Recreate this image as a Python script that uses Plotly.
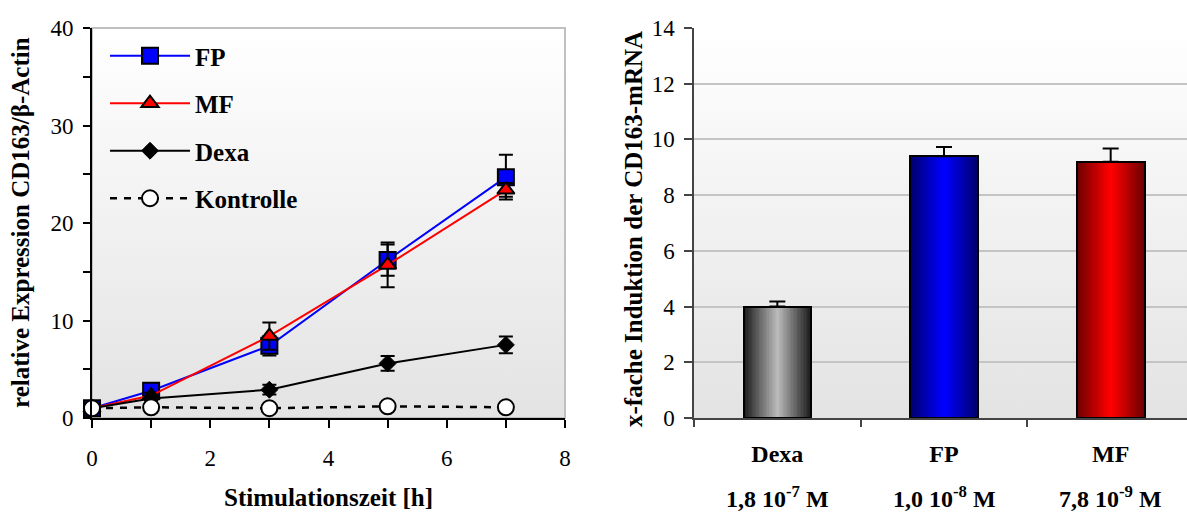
import base64
import plotly.graph_objects as go

# ---- Zeitverlauf: relative Expression CD163/beta-Actin ----
zeit_h = [0, 1, 3, 5, 7]
fp_werte = [1.0, 2.8, 7.4, 16.2, 24.7]
fp_fehler = [0.0, 0.3, 1.0, 1.6, 2.3]
mf_werte = [1.0, 2.3, 8.4, 15.7, 23.4]
mf_fehler = [0.0, 0.3, 1.4, 2.3, 0.7]
dexa_werte = [1.0, 2.0, 2.9, 5.6, 7.5]
dexa_fehler = [0.0, 0.2, 0.5, 0.75, 0.85]
kontrolle_werte = [1.0, 1.1, 1.0, 1.2, 1.1]

# ---- x-fache Induktion ----
substanzen = ["Dexa", "FP", "MF"]
konzentrationen = ["1,8 10<sup>-7</sup> M", "1,0 10<sup>-8</sup> M", "7,8 10<sup>-9</sup> M"]
induktion = [4.0, 9.4, 9.2]
induktion_fehler = [0.18, 0.33, 0.47]

# gradient colours (edge, centre) per bar
balken_rand = [(28, 28, 28), (0, 0, 110), (110, 0, 0)]
balken_mitte = [(185, 185, 185), (0, 0, 255), (255, 0, 0)]

W, H = 1187, 515
SERIF = "Liberation Serif"

left_dom = [92 / W, 565 / W]
right_dom = [694 / W, 1.0]
y_dom = [1 - 418 / H, 1 - 28 / H]

fig = go.Figure()

err_style = dict(color="black", thickness=2, width=7)

fig.add_trace(go.Scatter(
    x=zeit_h, y=fp_werte, name="FP", mode="lines+markers", legendgroup="a", cliponaxis=False,
    line=dict(color="#0000ff", width=2),
    marker=dict(symbol="square", size=16, color="#0000ff", line=dict(color="black", width=2)),
    error_y=dict(type="data", array=fp_fehler, **err_style),
    xaxis="x", yaxis="y"))
fig.add_trace(go.Scatter(
    x=zeit_h, y=mf_werte, name="MF", mode="lines+markers", legendgroup="b", cliponaxis=False,
    line=dict(color="#ff0000", width=2),
    marker=dict(symbol="triangle-up", size=15, color="#ff0000", line=dict(color="black", width=2)),
    error_y=dict(type="data", array=mf_fehler, **err_style),
    xaxis="x", yaxis="y"))
fig.add_trace(go.Scatter(
    x=zeit_h, y=dexa_werte, name="Dexa", mode="lines+markers", legendgroup="c", cliponaxis=False,
    line=dict(color="black", width=2),
    marker=dict(symbol="diamond", size=13, color="black", line=dict(color="black", width=1)),
    error_y=dict(type="data", array=dexa_fehler, **err_style),
    xaxis="x", yaxis="y"))
fig.add_trace(go.Scatter(
    x=zeit_h, y=kontrolle_werte, name="Kontrolle", mode="lines+markers", legendgroup="d",
    cliponaxis=False,
    line=dict(color="black", width=2.5, dash="7px,7px"),
    marker=dict(symbol="circle", size=16, color="white", line=dict(color="black", width=2)),
    xaxis="x", yaxis="y"))

# bars: stacked layers of narrowing width give a horizontal edge-to-centre gradient
bar_w = 0.406
n_layers = 24
for k in range(n_layers):
    t = k / (n_layers - 1)
    farben = []
    for r, m in zip(balken_rand, balken_mitte):
        c = [round(r[i] + (m[i] - r[i]) * t) for i in range(3)]
        farben.append(f"rgb({c[0]},{c[1]},{c[2]})")
    fig.add_trace(go.Bar(
        x=substanzen, y=induktion, width=bar_w * (1 - k / n_layers),
        marker=dict(color=farben, line=dict(width=0)),
        showlegend=False, hoverinfo="skip", xaxis="x2", yaxis="y2"))

fig.add_trace(go.Bar(
    x=substanzen, y=induktion, width=bar_w,
    marker=dict(color="rgba(0,0,0,0)", line=dict(color="black", width=2)),
    error_y=dict(type="data", symmetric=False, array=induktion_fehler,
                 arrayminus=[0] * len(induktion), color="black", thickness=2, width=8),
    showlegend=False, xaxis="x2", yaxis="y2"))

tick_font = dict(family=SERIF, size=23, color="black")

# vertical gradient backdrop for both plot areas
svg = ('<svg xmlns="http://www.w3.org/2000/svg" width="100" height="100" viewBox="0 0 100 100" '
       'preserveAspectRatio="none"><defs><linearGradient id="g" x1="0" y1="0" x2="0" y2="1">'
       '<stop offset="0" stop-color="#ffffff"/><stop offset="1" stop-color="#e3e3e3"/>'
       '</linearGradient></defs><rect width="100" height="100" fill="url(#g)"/></svg>')
bg_src = "data:image/svg+xml;base64," + base64.b64encode(svg.encode()).decode()
images = []
for dom in (left_dom, right_dom):
    images.append(dict(source=bg_src, xref="paper", yref="paper", x=dom[0], y=y_dom[1],
                       sizex=dom[1] - dom[0], sizey=y_dom[1] - y_dom[0],
                       sizing="stretch", layer="below"))

fig.update_layout(
    width=W, height=H,
    margin=dict(l=0, r=0, t=0, b=0, autoexpand=False),
    paper_bgcolor="white", plot_bgcolor="rgba(0,0,0,0)",
    barmode="overlay", bargap=0,
    images=images,
    showlegend=True,
    legend=dict(x=105 / W, y=1 - 33 / H, xanchor="left", yanchor="top",
                bgcolor="rgba(0,0,0,0)", itemwidth=80, traceorder="grouped",
                tracegroupgap=12,
                font=dict(family=SERIF, size=25, color="black", weight="bold")),
    xaxis=dict(domain=left_dom, range=[0, 8], dtick=2, tick0=0, automargin=False,
               showgrid=False, zeroline=False, showline=True, linecolor="black", linewidth=2,
               ticks="outside", ticklen=8, tickwidth=1.5, tickcolor="black",
               minor=dict(dtick=1, ticks="outside", ticklen=8, tickwidth=1.5, tickcolor="black"),
               tickfont=tick_font, ticklabelstandoff=10, anchor="y"),
    yaxis=dict(domain=y_dom, range=[0, 40], dtick=10, tick0=0, automargin=False,
               showgrid=False, zeroline=False, showline=True, linecolor="black", linewidth=2,
               ticks="outside", ticklen=7, tickwidth=1.5, tickcolor="black",
               minor=dict(dtick=5, ticks="outside", ticklen=7, tickwidth=1.5, tickcolor="black"),
               tickfont=tick_font, ticklabelstandoff=5, anchor="x"),
    xaxis2=dict(domain=right_dom, type="category", categoryorder="array", categoryarray=substanzen,
                range=[-0.5, 2.5 - 7 / 166.7], showgrid=False, zeroline=False, automargin=False,
                showline=True, linecolor="#444444", linewidth=1.5,
                tickson="boundaries", ticks="outside", ticklen=7, tickwidth=1.5, tickcolor="#444444",
                tickfont=dict(family=SERIF, size=24, color="black", weight="bold"),
                ticklabelstandoff=13, anchor="y2"),
    yaxis2=dict(domain=y_dom, range=[0, 14], dtick=2, tick0=0, automargin=False,
                showgrid=True, gridcolor="#c4c4c4", gridwidth=2,
                zeroline=False, showline=True, linecolor="#444444", linewidth=1.5,
                ticks="outside", ticklen=8, tickwidth=1.5, tickcolor="#444444",
                tickfont=tick_font, ticklabelstandoff=5, anchor="x2"),
    shapes=[dict(type="rect", xref="x domain", yref="y domain", x0=0, x1=1, y0=0, y1=1,
                 line=dict(color="#c0c0c0", width=2), layer="below")],
)

title_font = dict(family=SERIF, size=25, color="black", weight="bold")
annotations = [
    dict(text="relative Expression CD163/β-Actin", x=20 / W, y=1 - 223 / H, xref="paper", yref="paper",
         textangle=-90, showarrow=False, font=title_font, xanchor="center", yanchor="middle"),
    dict(text="x-fache Induktion der CD163-mRNA", x=634 / W, y=1 - 229 / H, xref="paper", yref="paper",
         textangle=-90, showarrow=False, font=title_font, xanchor="center", yanchor="middle"),
    dict(text="Stimulationszeit [h]", x=328 / W, y=1 - 497 / H, xref="paper", yref="paper",
         showarrow=False, font=title_font, xanchor="center", yanchor="middle"),
]
for s, k in zip(substanzen, konzentrationen):
    annotations.append(dict(text=k, x=s, xref="x2", y=1 - 497 / H, yref="paper",
                            showarrow=False, xanchor="center", yanchor="middle",
                            font=dict(family=SERIF, size=24, color="black", weight="bold")))
fig.update_layout(annotations=annotations)

fig.write_html("out.html")
